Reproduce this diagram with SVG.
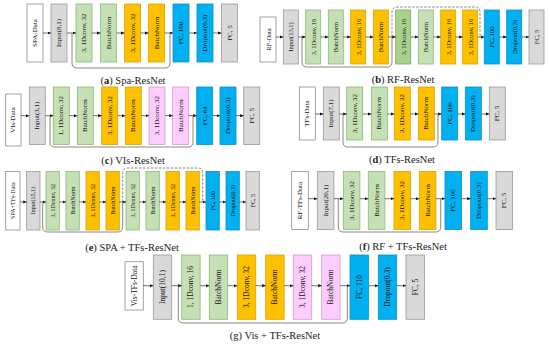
<svg xmlns="http://www.w3.org/2000/svg" width="550" height="345" viewBox="0 0 550 345">
<style>
rect{stroke-width:0.8}
.w{fill:#ffffff;stroke:#8c8c8c}
.g{fill:#d9d9d9;stroke:#9a9a9a}
.gr{fill:#c5e0b4;stroke:#8db87a}
.gd{fill:#a9d18e;stroke:#7aa860}
.y{fill:#ffc000;stroke:#d9a300}
.b{fill:#00b0f0;stroke:#0a90c8}
.p{fill:#ffccff;stroke:#c8a0c8}
text{font-family:"Liberation Serif","Times New Roman",serif;fill:#111}
.t{text-anchor:middle;dominant-baseline:central}
.s7{font-size:7px}.s65{font-size:6.5px}.s6{font-size:6px}.s75{font-size:7.5px}
.lbl{font-size:10.5px;text-anchor:middle;fill:#222}
.c{stroke:#333;stroke-width:0.7;fill:none;marker-end:url(#ah)}
.sk{stroke:#555;stroke-width:0.7;fill:none}
.dk{stroke:#555;stroke-width:0.7;fill:none;stroke-dasharray:2.5 1.5}
</style>
<defs>
<marker id="ah" markerUnits="userSpaceOnUse" markerWidth="4" markerHeight="4" refX="3.5" refY="1.6" orient="auto"><path d="M0,0 L3.5,1.6 L0,3.2 z" fill="#111"/></marker>
</defs>

<!-- Panel a -->
<g id="a0"><rect class="w" x="27" y="4" width="16" height="58"/><text class="t s7" transform="translate(35,33) rotate(-90)">SPA-Data</text></g>
<g id="a1"><rect class="g" x="51" y="4" width="16" height="58"/><text class="t s7" transform="translate(59,33) rotate(-90)">Input(8,1)</text></g>
<g id="a2"><rect class="gr" x="76" y="4" width="16" height="58"/><text class="t s7" transform="translate(84,33) rotate(-90)">3, 1Dconv, 32</text></g>
<g id="a3"><rect class="gr" x="100.5" y="4" width="16" height="58"/><text class="t s7" transform="translate(108.5,33) rotate(-90)">BatchNorm</text></g>
<g id="a4"><rect class="y" x="124.5" y="4" width="16" height="58"/><text class="t s7" transform="translate(132.5,33) rotate(-90)">3, 1Dconv, 32</text></g>
<g id="a5"><rect class="y" x="148.5" y="4" width="16" height="58"/><text class="t s7" transform="translate(156.5,33) rotate(-90)">BatchNorm</text></g>
<g id="a6"><rect class="b" x="173" y="4" width="16" height="58"/><text class="t s7" transform="translate(181,33) rotate(-90)">FC, 100</text></g>
<g id="a7"><rect class="b" x="197" y="4" width="16" height="58"/><text class="t s7" transform="translate(205,33) rotate(-90)">Dropout(0.3)</text></g>
<g id="a8"><rect class="g" x="221.5" y="4" width="16" height="58"/><text class="t s7" transform="translate(229.5,33) rotate(-90)">FC, 5</text></g>
<text class="lbl" x="133" y="84">(<tspan font-weight="bold">a</tspan>) Spa-ResNet</text>

<!-- Panel b -->
<g id="b0"><rect class="w" x="260" y="17" width="16" height="45"/><text class="t s65" transform="translate(268,39.5) rotate(-90)">RF-Data</text></g>
<g id="b1"><rect class="g" x="283.3" y="10" width="15" height="54"/><text class="t s65" transform="translate(290.8,37) rotate(-90)">Input(13,1)</text></g>
<g id="b2"><rect class="gr" x="305.7" y="10" width="15" height="54"/><text class="t s65" transform="translate(313.2,37) rotate(-90)">3, 1Dconv, 16</text></g>
<g id="b3"><rect class="gr" x="328.3" y="10" width="15" height="54"/><text class="t s65" transform="translate(335.8,37) rotate(-90)">BatchNorm</text></g>
<g id="b4"><rect class="y" x="350.7" y="10" width="15" height="54"/><text class="t s65" transform="translate(358.2,37) rotate(-90)">3, 1Dconv, 16</text></g>
<g id="b5"><rect class="y" x="373.3" y="10" width="15" height="54"/><text class="t s65" transform="translate(380.8,37) rotate(-90)">BatchNorm</text></g>
<g id="b6"><rect class="gd" x="395.7" y="10" width="15" height="54"/><text class="t s65" transform="translate(403.2,37) rotate(-90)">3, 1Dconv, 16</text></g>
<g id="b7"><rect class="gr" x="418.3" y="10" width="15" height="54"/><text class="t s65" transform="translate(425.8,37) rotate(-90)">BatchNorm</text></g>
<g id="b8"><rect class="y" x="440.7" y="10" width="15" height="54"/><text class="t s65" transform="translate(448.2,37) rotate(-90)">3, 1Dconv, 16</text></g>
<g id="b9"><rect class="y" x="462.7" y="10" width="15" height="54"/><text class="t s65" transform="translate(470.2,37) rotate(-90)">3, 1Dconv, 16</text></g>
<g id="b10"><rect class="b" x="484.3" y="10" width="15" height="54"/><text class="t s65" transform="translate(491.8,37) rotate(-90)">FC, 100</text></g>
<g id="b11"><rect class="b" x="506.7" y="10" width="15" height="54"/><text class="t s65" transform="translate(514.2,37) rotate(-90)">Dropout(0.3)</text></g>
<g id="b12"><rect class="g" x="529" y="10" width="15" height="54"/><text class="t s65" transform="translate(536.5,37) rotate(-90)">FC, 5</text></g>
<text class="lbl" x="403" y="83">(<tspan font-weight="bold">b</tspan>) RF-ResNet</text>

<!-- Panel c -->
<g id="c0"><rect class="w" x="5.7" y="94" width="15.3" height="52"/><text class="t s7" transform="translate(13.35,120) rotate(-90)">VIs-Data</text></g>
<g id="c1"><rect class="g" x="29.3" y="87" width="16" height="57.5"/><text class="t s7" transform="translate(37.3,115.7) rotate(-90)">Input(3,1)</text></g>
<g id="c2"><rect class="gr" x="53.3" y="87" width="16" height="57.5"/><text class="t s7" transform="translate(61.3,115.7) rotate(-90)">1, 1Dconv, 32</text></g>
<g id="c3"><rect class="gr" x="77.3" y="87" width="16" height="57.5"/><text class="t s7" transform="translate(85.3,115.7) rotate(-90)">BatchNorm</text></g>
<g id="c4"><rect class="y" x="101.7" y="87" width="16" height="57.5"/><text class="t s7" transform="translate(109.7,115.7) rotate(-90)">3, 1Dconv, 32</text></g>
<g id="c5"><rect class="y" x="125.3" y="87" width="16" height="57.5"/><text class="t s7" transform="translate(133.3,115.7) rotate(-90)">BatchNorm</text></g>
<g id="c6"><rect class="p" x="149" y="87" width="16" height="57.5"/><text class="t s7" transform="translate(157,115.7) rotate(-90)">3, 1Dconv, 32</text></g>
<g id="c7"><rect class="p" x="172.7" y="87" width="16" height="57.5"/><text class="t s7" transform="translate(180.7,115.7) rotate(-90)">BatchNorm</text></g>
<g id="c8"><rect class="b" x="196.7" y="87" width="16" height="57.5"/><text class="t s7" transform="translate(204.7,115.7) rotate(-90)">FC, 64</text></g>
<g id="c9"><rect class="b" x="220" y="87" width="16" height="57.5"/><text class="t s7" transform="translate(228,115.7) rotate(-90)">Dropout(0.3)</text></g>
<g id="c10"><rect class="g" x="243.7" y="87" width="16" height="57.5"/><text class="t s7" transform="translate(251.7,115.7) rotate(-90)">FC, 5</text></g>
<text class="lbl" x="133" y="164">(<tspan font-weight="bold">c</tspan>) VIs-ResNet</text>

<!-- Panel d -->
<g id="d0"><rect class="w" x="299.3" y="87" width="16" height="53"/><text class="t s7" transform="translate(307.3,113.5) rotate(-90)">TFs-Data</text></g>
<g id="d1"><rect class="g" x="323.3" y="87" width="16" height="53"/><text class="t s7" transform="translate(331.3,113.5) rotate(-90)">Input(7,1)</text></g>
<g id="d2"><rect class="gr" x="346.7" y="87" width="16" height="53"/><text class="t s7" transform="translate(354.7,113.5) rotate(-90)">3, 1Dconv, 32</text></g>
<g id="d3"><rect class="gr" x="371.3" y="87" width="16" height="53"/><text class="t s7" transform="translate(379.3,113.5) rotate(-90)">BatchNorm</text></g>
<g id="d4"><rect class="y" x="394.3" y="87" width="16" height="53"/><text class="t s7" transform="translate(402.3,113.5) rotate(-90)">3, 1Dconv, 32</text></g>
<g id="d5"><rect class="y" x="418.3" y="87" width="16" height="53"/><text class="t s7" transform="translate(426.3,113.5) rotate(-90)">BatchNorm</text></g>
<g id="d6"><rect class="b" x="441.7" y="87" width="16" height="53"/><text class="t s7" transform="translate(449.7,113.5) rotate(-90)">FC, 100</text></g>
<g id="d7"><rect class="b" x="465.3" y="87" width="16" height="53"/><text class="t s7" transform="translate(473.3,113.5) rotate(-90)">Dropout(0.3)</text></g>
<g id="d8"><rect class="g" x="489.3" y="87" width="16" height="53"/><text class="t s7" transform="translate(497.3,113.5) rotate(-90)">FC, 5</text></g>
<text class="lbl" x="402" y="163">(<tspan font-weight="bold">d</tspan>) TFs-ResNet</text>

<!-- Panel e -->
<g id="e0"><rect class="w" x="5.7" y="171.5" width="14.3" height="58.5"/><text class="t s6" transform="translate(12.85,200.7) rotate(-90)">SPA+TFs-Data</text></g>
<g id="e1"><rect class="g" x="26.7" y="171.5" width="13.3" height="58.5"/><text class="t s6" transform="translate(33.35,200.7) rotate(-90)">Input(15,1)</text></g>
<g id="e2"><rect class="gr" x="46" y="171.5" width="13.3" height="58.5"/><text class="t s6" transform="translate(52.65,200.7) rotate(-90)">3, 1Dconv, 32</text></g>
<g id="e3"><rect class="gr" x="66" y="171.5" width="13.3" height="58.5"/><text class="t s6" transform="translate(72.65,200.7) rotate(-90)">BatchNorm</text></g>
<g id="e4"><rect class="y" x="86" y="171.5" width="13.3" height="58.5"/><text class="t s6" transform="translate(92.65,200.7) rotate(-90)">3, 1Dconv, 32</text></g>
<g id="e5"><rect class="y" x="106" y="171.5" width="13.3" height="58.5"/><text class="t s6" transform="translate(112.65,200.7) rotate(-90)">BatchNorm</text></g>
<g id="e6"><rect class="gr" x="126" y="171.5" width="13.3" height="58.5"/><text class="t s6" transform="translate(132.65,200.7) rotate(-90)">3, 1Dconv, 32</text></g>
<g id="e7"><rect class="gr" x="146" y="171.5" width="13.3" height="58.5"/><text class="t s6" transform="translate(152.65,200.7) rotate(-90)">BatchNorm</text></g>
<g id="e8"><rect class="y" x="166" y="171.5" width="13.3" height="58.5"/><text class="t s6" transform="translate(172.65,200.7) rotate(-90)">3, 1Dconv, 32</text></g>
<g id="e9"><rect class="y" x="186" y="171.5" width="13.3" height="58.5"/><text class="t s6" transform="translate(192.65,200.7) rotate(-90)">BatchNorm</text></g>
<g id="e10"><rect class="b" x="206" y="171.5" width="13.3" height="58.5"/><text class="t s6" transform="translate(212.65,200.7) rotate(-90)">FC, 100</text></g>
<g id="e11"><rect class="b" x="226" y="171.5" width="13.3" height="58.5"/><text class="t s6" transform="translate(232.65,200.7) rotate(-90)">Dropout(0.3)</text></g>
<g id="e12"><rect class="g" x="246" y="171.5" width="13.3" height="58.5"/><text class="t s6" transform="translate(252.65,200.7) rotate(-90)">FC, 5</text></g>
<text class="lbl" x="132" y="251">(<tspan font-weight="bold">e</tspan>) SPA + TFs-ResNet</text>

<!-- Panel f -->
<g id="f0"><rect class="w" x="291.7" y="171.5" width="16.6" height="58"/><text class="t s7" transform="translate(300,200.5) rotate(-90)">RF-TFs-Data</text></g>
<g id="f1"><rect class="g" x="317.3" y="171.5" width="16.6" height="58"/><text class="t s7" transform="translate(325.6,200.5) rotate(-90)">Input(20,1)</text></g>
<g id="f2"><rect class="gr" x="343.3" y="171.5" width="16.6" height="58"/><text class="t s7" transform="translate(351.6,200.5) rotate(-90)">3, 1Dconv, 32</text></g>
<g id="f3"><rect class="gr" x="368.3" y="171.5" width="16.6" height="58"/><text class="t s7" transform="translate(376.6,200.5) rotate(-90)">BatchNorm</text></g>
<g id="f4"><rect class="y" x="394" y="171.5" width="16.6" height="58"/><text class="t s7" transform="translate(402.3,200.5) rotate(-90)">3, 1Dconv, 32</text></g>
<g id="f5"><rect class="y" x="419.3" y="171.5" width="16.6" height="58"/><text class="t s7" transform="translate(427.6,200.5) rotate(-90)">BatchNorm</text></g>
<g id="f6"><rect class="b" x="445" y="171.5" width="16.6" height="58"/><text class="t s7" transform="translate(453.3,200.5) rotate(-90)">FC, 100</text></g>
<g id="f7"><rect class="b" x="470.7" y="171.5" width="16.6" height="58"/><text class="t s7" transform="translate(479,200.5) rotate(-90)">Dropout(0.3)</text></g>
<g id="f8"><rect class="g" x="496" y="171.5" width="16.6" height="58"/><text class="t s7" transform="translate(504.3,200.5) rotate(-90)">FC, 5</text></g>
<text class="lbl" x="403" y="250">(<tspan font-weight="bold">f</tspan>) RF + TFs-ResNet</text>

<!-- Panel g -->
<g id="g0"><rect class="w" x="125" y="261.7" width="18.3" height="48.3"/><text class="t s75" transform="translate(134.15,285.85) rotate(-90)">Vis-TFs-Data</text></g>
<g id="g1"><rect class="g" x="153.3" y="255" width="18.4" height="64.3"/><text class="t s75" transform="translate(162.5,287) rotate(-90)">Input(10,1)</text></g>
<g id="g2"><rect class="gr" x="181.7" y="255" width="18.4" height="64.3"/><text class="t s75" transform="translate(190.9,287) rotate(-90)">1, 1Dconv, 16</text></g>
<g id="g3"><rect class="gr" x="209.3" y="255" width="18.4" height="64.3"/><text class="t s75" transform="translate(218.5,287) rotate(-90)">BatchNorm</text></g>
<g id="g4"><rect class="y" x="237.3" y="255" width="18.4" height="64.3"/><text class="t s75" transform="translate(246.5,287) rotate(-90)">3, 1Dconv, 32</text></g>
<g id="g5"><rect class="y" x="265.7" y="255" width="18.4" height="64.3"/><text class="t s75" transform="translate(274.9,287) rotate(-90)">BatchNorm</text></g>
<g id="g6"><rect class="p" x="293.3" y="255" width="18.4" height="64.3"/><text class="t s75" transform="translate(302.5,287) rotate(-90)">3, 1Dconv, 32</text></g>
<g id="g7"><rect class="p" x="321.7" y="255" width="18.4" height="64.3"/><text class="t s75" transform="translate(330.9,287) rotate(-90)">BatchNorm</text></g>
<g id="g8"><rect class="b" x="350" y="255" width="18.4" height="64.3"/><text class="t s75" transform="translate(359.2,287) rotate(-90)">FC, 110</text></g>
<g id="g9"><rect class="b" x="378.3" y="255" width="18.4" height="64.3"/><text class="t s75" transform="translate(387.5,287) rotate(-90)">Dropout(0.3)</text></g>
<g id="g10"><rect class="g" x="406" y="255" width="18.4" height="64.3"/><text class="t s75" transform="translate(415.2,287) rotate(-90)">FC, 5</text></g>
<text class="lbl" x="275" y="339">(g) Vis + TFs-ResNet</text>

<g id="connectors">
<!-- a -->
<path class="c" d="M43 33H51"/><path class="c" d="M67 33H76"/><path class="c" d="M92 33H100.5"/><path class="c" d="M116.5 33H124.5"/><path class="c" d="M140.5 33H148.5"/><path class="c" d="M164.5 33H173"/><path class="c" d="M189 33H197"/><path class="c" d="M213 33H221.5"/>
<path class="sk" d="M72 33V63Q72 68 77 68H165Q170 68 170 63V33"/>
<!-- b -->
<path class="c" d="M276 37H283.3"/><path class="c" d="M298.3 37H305.7"/><path class="c" d="M320.7 37H328.3"/><path class="c" d="M343.3 37H350.7"/><path class="c" d="M365.7 37H373.3"/><path class="c" d="M388.3 37H395.7"/><path class="c" d="M410.7 37H418.3"/><path class="c" d="M433.3 37H440.7"/><path class="c" d="M455.7 37H462.7"/><path class="c" d="M477.7 37H484.3"/><path class="c" d="M499.3 37H506.7"/><path class="c" d="M521.7 37H529"/>
<path class="sk" d="M302 37V62Q302 67 307 67H387Q392 67 392 62V37"/>
<path class="dk" d="M392 37V12Q392 7 397 7H475Q480 7 480 12V37"/>
<!-- c -->
<path class="c" d="M21 115.7H29.3"/><path class="c" d="M45.3 115.7H53.3"/><path class="c" d="M69.3 115.7H77.3"/><path class="c" d="M93.3 115.7H101.7"/><path class="c" d="M117.7 115.7H125.3"/><path class="c" d="M141.3 115.7H149"/><path class="c" d="M165 115.7H172.7"/><path class="c" d="M188.7 115.7H196.7"/><path class="c" d="M212.7 115.7H220"/><path class="c" d="M236 115.7H243.7"/>
<path class="sk" d="M50 115.7V142Q50 147 55 147H188Q193 147 193 142V115.7"/>
<!-- d -->
<path class="c" d="M315.3 114H323.3"/><path class="c" d="M339.3 114H346.7"/><path class="c" d="M362.7 114H371.3"/><path class="c" d="M387.3 114H394.3"/><path class="c" d="M410.3 114H418.3"/><path class="c" d="M434.3 114H441.7"/><path class="c" d="M457.7 114H465.3"/><path class="c" d="M481.3 114H489.3"/>
<path class="sk" d="M343 114V142Q343 147 348 147H433Q438 147 438 142V114"/>
<!-- e -->
<path class="c" d="M20 202H26.7"/><path class="c" d="M40 202H46"/><path class="c" d="M59.3 202H66"/><path class="c" d="M79.3 202H86"/><path class="c" d="M99.3 202H106"/><path class="c" d="M119.3 202H126"/><path class="c" d="M139.3 202H146"/><path class="c" d="M159.3 202H166"/><path class="c" d="M179.3 202H186"/><path class="c" d="M199.3 202H206"/><path class="c" d="M219.3 202H226"/><path class="c" d="M239.3 202H246"/>
<path class="sk" d="M42.7 202V227Q42.7 232 47.7 232H117.7Q122.7 232 122.7 227V202"/>
<path class="dk" d="M122.7 202V173Q122.7 168 127.7 168H197.7Q202.7 168 202.7 173V202"/>
<!-- f -->
<path class="c" d="M308.3 198.7H317.3"/><path class="c" d="M333.9 198.7H343.3"/><path class="c" d="M359.9 198.7H368.3"/><path class="c" d="M384.9 198.7H394"/><path class="c" d="M410.6 198.7H419.3"/><path class="c" d="M435.9 198.7H445"/><path class="c" d="M461.6 198.7H470.7"/><path class="c" d="M487.3 198.7H496"/>
<path class="sk" d="M338.3 198.7V227Q338.3 232 343.3 232H435.7Q440.7 232 440.7 227V198.7"/>
<!-- g -->
<path class="c" d="M143.3 285.7H153.3"/><path class="c" d="M171.7 285.7H181.7"/><path class="c" d="M200.1 285.7H209.3"/><path class="c" d="M227.7 285.7H237.3"/><path class="c" d="M255.7 285.7H265.7"/><path class="c" d="M284.1 285.7H293.3"/><path class="c" d="M311.7 285.7H321.7"/><path class="c" d="M340.1 285.7H350"/><path class="c" d="M368.4 285.7H378.3"/><path class="c" d="M396.7 285.7H406"/>
<path class="sk" d="M178.3 285.7V318Q178.3 323 183.3 323H342.3Q347.3 323 347.3 318V285.7"/>
</g>
</svg>
